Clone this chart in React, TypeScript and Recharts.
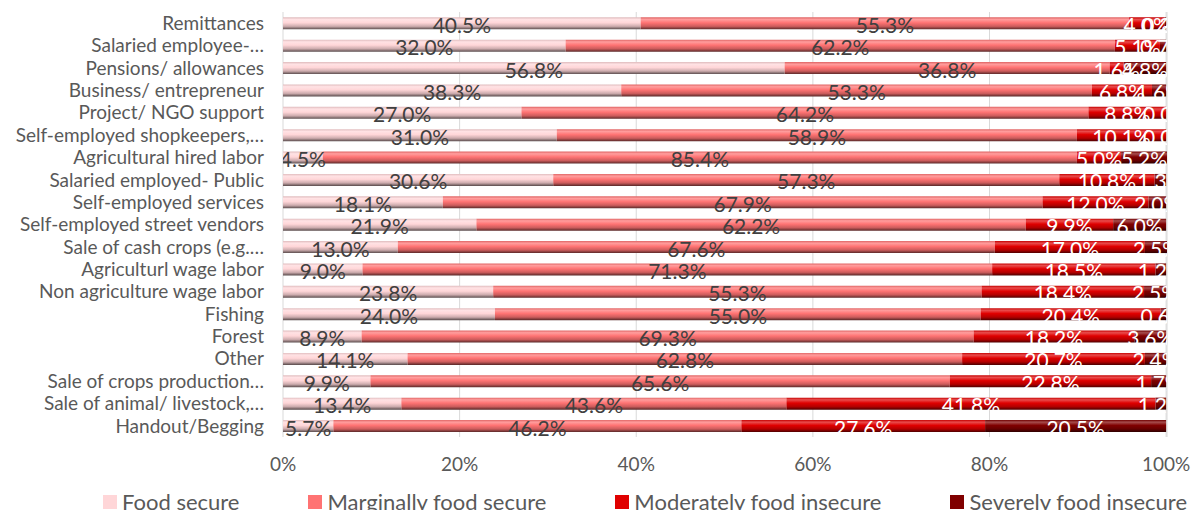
import React from 'react'
import {
  BarChart,
  Bar,
  XAxis,
  YAxis,
  CartesianGrid,
  LabelList,
} from 'recharts'

const categories = [
  'Remittances',
  'Salaried employee-…',
  'Pensions/ allowances',
  'Business/ entrepreneur',
  'Project/ NGO support',
  'Self-employed shopkeepers,…',
  'Agricultural hired labor',
  'Salaried employed- Public',
  'Self-employed services',
  'Self-employed street vendors',
  'Sale of cash crops (e.g.…',
  'Agriculturl wage labor',
  'Non agriculture wage labor',
  'Fishing',
  'Forest',
  'Other',
  'Sale of crops production…',
  'Sale of animal/ livestock,…',
  'Handout/Begging',
]

const foodSecure = [40.5, 32.0, 56.8, 38.3, 27.0, 31.0, 4.5, 30.6, 18.1, 21.9, 13.0, 9.0, 23.8, 24.0, 8.9, 14.1, 9.9, 13.4, 5.7]
const marginal = [55.3, 62.2, 36.8, 53.3, 64.2, 58.9, 85.4, 57.3, 67.9, 62.2, 67.6, 71.3, 55.3, 55.0, 69.3, 62.8, 65.6, 43.6, 46.2]
const moderate = [4.0, 5.1, 1.6, 6.8, 8.8, 10.1, 5.0, 10.8, 12.0, 9.9, 17.0, 18.5, 18.4, 20.4, 18.2, 20.7, 22.8, 41.8, 27.6]
const severe = [0.2, 0.7, 4.8, 1.6, 0.0, 0.0, 5.2, 1.3, 2.0, 6.0, 2.5, 1.2, 2.5, 0.6, 3.6, 2.4, 1.7, 1.2, 20.5]

const xTicks = [0, 20, 40, 60, 80, 100]

const series = [
  { key: 'fs', name: 'Food secure', color: '#ffd6d8', text: '#404040' },
  { key: 'mfs', name: 'Marginally food secure', color: '#ff7373', text: '#404040' },
  { key: 'mfi', name: 'Moderately food insecure', color: '#e00000', text: '#ffffff' },
  { key: 'sfi', name: 'Severely food insecure', color: '#800000', text: '#ffffff' },
]

const data = categories.map((name, i) => ({
  name,
  fs: foodSecure[i],
  mfs: marginal[i],
  mfi: moderate[i],
  sfi: severe[i],
}))

const W = 1198
const H = 510
const M = { top: 12, right: 31, bottom: 23, left: 0 }
const Y_WIDTH = 283
const FONT = 'Lato, "Open Sans", sans-serif'

// blend a hex colour towards white (t>0) or black (t<0)
function shade(hex: string, t: number) {
  const n = parseInt(hex.slice(1), 16)
  const ch = [(n >> 16) & 255, (n >> 8) & 255, n & 255].map((c) =>
    Math.round(t >= 0 ? c + (255 - c) * t : c * (1 + t))
  )
  return `rgb(${ch.join(',')})`
}

function ValueText({ cx, cy, fill, value }: { cx: number; cy: number; fill: string; value: number }) {
  return (
    <text
      x={cx}
      y={cy + 1}
      textAnchor="middle"
      dominantBaseline="central"
      fill={fill}
      fontSize={21}
      fontFamily={FONT}
      clipPath="url(#plot-clip)"
    >
      {`${Number(value).toFixed(1)}%`}
    </text>
  )
}

const makeLabel = (fill: string, last: boolean) => (props: any) => {
  const { x, y, width, height, value, index } = props
  if (value == null) return null
  const cy = y + height / 2
  return (
    <g>
      <ValueText cx={x + width / 2} cy={cy} fill={fill} value={value} />
      {/* zero-width severe segments get no rectangle, so their label is placed at this bar's end */}
      {last && severe[index] === 0 && (
        <ValueText cx={x + width} cy={cy} fill="#ffffff" value={0} />
      )}
    </g>
  )
}

function LegendRow() {
  return (
    <div
      style={{
        position: 'absolute',
        left: 103,
        top: 489,
        display: 'flex',
        gap: 69,
        fontFamily: FONT,
        fontSize: 22,
        color: '#595959',
        whiteSpace: 'nowrap',
        lineHeight: '26px',
      }}
    >
      {series.map((s) => (
        <div key={s.key} style={{ display: 'flex', alignItems: 'center', gap: 5 }}>
          <span style={{ width: 14, height: 14, background: s.color, display: 'inline-block' }} />
          <span>{s.name}</span>
        </div>
      ))}
    </div>
  )
}

export default function App() {
  const plotRight = W - M.right
  return (
    <div style={{ position: 'absolute', left: 0, top: 0, width: W, height: H, overflow: 'hidden', background: '#fff' }}>
      <BarChart
        width={W}
        height={H}
        data={data}
        layout="vertical"
        margin={M}
        barCategoryGap="24%"
      >
        <defs>
          {series.map((s) => (
            <linearGradient key={s.key} id={`grad-${s.key}`} x1="0" y1="0" x2="0" y2="1">
              <stop offset="0%" stopColor={shade(s.color, -0.12)} />
              <stop offset="18%" stopColor={shade(s.color, 0.3)} />
              <stop offset="45%" stopColor={s.color} />
              <stop offset="75%" stopColor={shade(s.color, -0.2)} />
              <stop offset="100%" stopColor={shade(s.color, -0.65)} />
            </linearGradient>
          ))}
          <clipPath id="plot-clip">
            <rect x={Y_WIDTH} y={0} width={plotRight - Y_WIDTH} height={H} />
          </clipPath>
        </defs>
        <CartesianGrid horizontal={false} stroke="#d9d9d9" />
        <XAxis
          type="number"
          domain={[0, 100]}
          ticks={xTicks}
          tickFormatter={(v) => `${v}%`}
          axisLine={false}
          tickLine={false}
          tickSize={0}
          tickMargin={21}
          height={50}
          tick={{ fill: '#595959', fontSize: 19, fontFamily: FONT }}
          interval={0}
        />
        <YAxis
          type="category"
          dataKey="name"
          width={Y_WIDTH}
          axisLine={false}
          tickLine={false}
          tickSize={0}
          tickMargin={19}
          interval={0}
          tick={{ fill: '#595959', fontSize: 19, fontFamily: FONT }}
        />
        {series.map((s) => (
          <Bar
            key={s.key}
            dataKey={s.key}
            name={s.name}
            stackId="a"
            fill={`url(#grad-${s.key})`}
            isAnimationActive={false}
          >
            <LabelList dataKey={s.key} content={makeLabel(s.text, s.key === 'mfi')} />
          </Bar>
        ))}
      </BarChart>
      <LegendRow />
    </div>
  )
}
